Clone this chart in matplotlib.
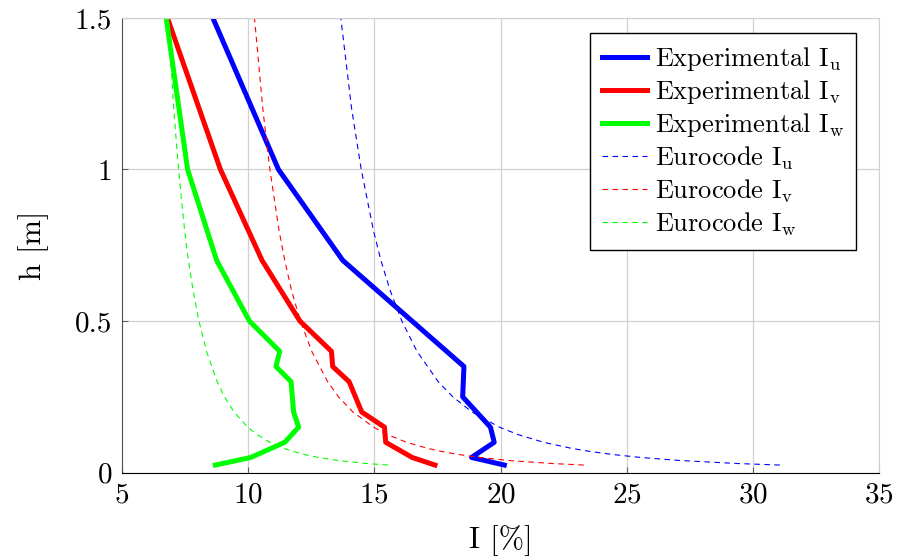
import matplotlib.pyplot as plt

plt.rcParams["font.family"] = "serif"
plt.rcParams["font.serif"] = ["cmr10"]
plt.rcParams["mathtext.fontset"] = "cm"
plt.rcParams["axes.formatter.use_mathtext"] = True

# measured turbulence intensity profiles (height in m, intensity in %)
h_u = [0.025, 0.05, 0.1, 0.15, 0.25, 0.35, 0.7, 1.0, 1.5]
exp_u = [20.15, 18.85, 19.75, 19.6, 18.5, 18.55, 13.75, 11.2, 8.6]

h_vw = [0.025, 0.05, 0.1, 0.15, 0.2, 0.3, 0.35, 0.4, 0.5, 0.7, 1.0, 1.5]
exp_v = [17.4, 16.5, 15.45, 15.4, 14.5, 14.0, 13.35, 13.3, 12.05, 10.55, 8.9, 6.8]
exp_w = [8.7, 10.1, 11.45, 12.0, 11.8, 11.7, 11.1, 11.25, 10.05, 8.75, 7.6, 6.75]

# Eurocode profiles
h_ec = [0.025, 0.03, 0.04, 0.05, 0.06, 0.07, 0.08, 0.1, 0.125, 0.15, 0.2,
        0.25, 0.3, 0.4, 0.5, 0.6, 0.7, 0.8, 1.0, 1.2, 1.5]
ec_u = [31.07, 29.40, 27.11, 25.56, 24.42, 23.54, 22.82, 21.71, 20.71, 19.96, 18.87,
        18.11, 17.53, 16.69, 16.09, 15.63, 15.26, 14.96, 14.48, 14.10, 13.67]
ec_v = [23.30, 22.05, 20.33, 19.17, 18.32, 17.66, 17.12, 16.28, 15.53, 14.97, 14.15,
        13.58, 13.15, 12.52, 12.07, 11.72, 11.45, 11.22, 10.86, 10.58, 10.25]
ec_w = [15.54, 14.70, 13.56, 12.78, 12.21, 11.77, 11.41, 10.86, 10.36, 9.98, 9.44,
        9.06, 8.77, 8.35, 8.05, 7.82, 7.63, 7.48, 7.24, 7.05, 6.84]

fig = plt.figure(figsize=(8.97, 5.58), dpi=100)
ax = fig.add_axes([0.136, 0.153, 0.844, 0.815])

ax.plot(exp_u, h_u, color="#0000ff", lw=3.6, label=r"Experimental $\mathrm{I_u}$")
ax.plot(exp_v, h_vw, color="#ff0000", lw=3.6, label=r"Experimental $\mathrm{I_v}$")
ax.plot(exp_w, h_vw, color="#00ff00", lw=3.6, label=r"Experimental $\mathrm{I_w}$")
ax.plot(ec_u, h_ec, color="#0000ff", lw=0.8, dashes=(5, 4), label=r"Eurocode $\mathrm{I_u}$")
ax.plot(ec_v, h_ec, color="#ff0000", lw=0.8, dashes=(5, 4), label=r"Eurocode $\mathrm{I_v}$")
ax.plot(ec_w, h_ec, color="#00ff00", lw=0.8, dashes=(5, 4), label=r"Eurocode $\mathrm{I_w}$")

ax.set_xlim(5, 35)
ax.set_ylim(0, 1.5)
ax.set_xticks([5, 10, 15, 20, 25, 30, 35])
ax.set_yticks([0, 0.5, 1, 1.5])
ax.set_yticklabels(["0", "0.5", "1", "1.5"])
ax.grid(True, color="#d0d0d0", lw=0.9)
ax.set_axisbelow(True)
ax.tick_params(direction="in", length=4, labelsize=21, color="#606060", pad=7)
for s in ["top", "right"]:
    ax.spines[s].set_color("#d0d0d0")
ax.spines["left"].set_color("#505050")
ax.spines["bottom"].set_color("black")

ax.set_xlabel("I [%]", fontsize=22, labelpad=12)
ax.set_ylabel("h [m]", fontsize=22, labelpad=19)

ax.legend(loc="upper right", bbox_to_anchor=(0.9696, 0.967), fontsize=19,
          frameon=True, fancybox=False, edgecolor="black", framealpha=1,
          handlelength=1.7, handletextpad=0.3, borderpad=0.45,
          borderaxespad=0.0, labelspacing=0.2)

fig.savefig("out.png", dpi=100)
